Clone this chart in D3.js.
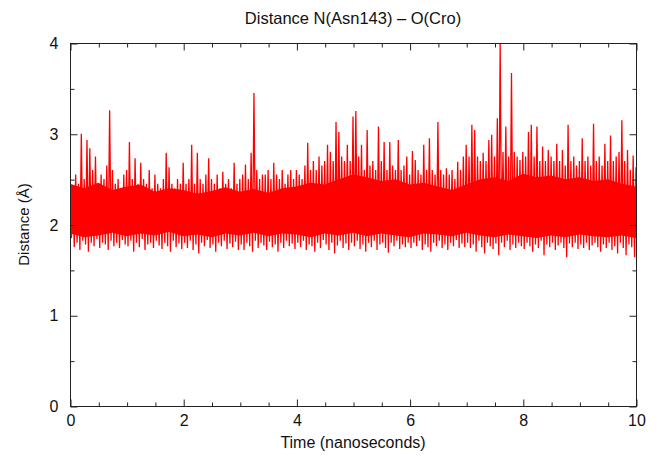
<!DOCTYPE html>
<html>
<head>
<meta charset="utf-8">
<script src="https://cdn.jsdelivr.net/npm/d3@7"></script>
<style>
  body { margin: 0; background: #fff; }
  text { font-family: "Liberation Sans", Arial, sans-serif; fill: #111; }
</style>
</head>
<body>
<div id="chart"></div>
<script>
const sampleStep = 0.05;
const lowOffset = 0.025;

const highs = [
  2.70, 2.40, 2.55, 2.45, 3.00, 2.50, 2.93, 2.84, 2.60, 2.75, 2.45, 2.55, 2.50, 2.65, 3.26, 2.60, 2.45, 2.50, 2.40, 2.55,
  2.60, 2.91, 2.50, 2.73, 2.45, 2.68, 2.50, 2.45, 2.60, 2.40, 2.55, 2.45, 2.40, 2.50, 2.79, 2.63, 2.45, 2.40, 2.50, 2.45,
  2.68, 2.45, 2.50, 2.88, 2.45, 2.79, 2.50, 2.45, 2.55, 2.73, 2.50, 2.45, 2.55, 2.40, 2.58, 2.45, 2.50, 2.40, 2.68, 2.45,
  2.50, 2.55, 2.66, 2.50, 2.79, 3.45, 2.60, 2.50, 2.55, 2.55, 2.60, 2.50, 2.68, 2.55, 2.50, 2.60, 2.45, 2.55, 2.60, 2.50,
  2.60, 2.55, 2.50, 2.65, 2.90, 2.60, 2.70, 2.60, 2.75, 2.65, 2.70, 2.88, 2.80, 2.70, 3.13, 3.02, 2.75, 2.70, 2.88, 2.70,
  3.19, 3.25, 2.75, 2.88, 2.60, 3.04, 2.65, 2.70, 2.60, 3.08, 2.70, 2.91, 2.60, 2.91, 2.65, 2.60, 2.93, 2.60, 2.65, 2.75,
  2.55, 2.81, 2.71, 2.60, 2.55, 2.88, 2.60, 2.95, 2.60, 2.55, 3.13, 2.60, 2.55, 2.62, 2.55, 2.60, 2.50, 2.69, 2.60, 2.75,
  2.88, 2.75, 3.10, 3.04, 2.75, 2.70, 2.79, 2.70, 2.93, 2.99, 2.75, 3.17, 4.00, 2.80, 3.08, 2.75, 3.67, 2.80, 2.75, 2.71,
  2.80, 2.75, 3.02, 3.10, 2.75, 3.08, 2.70, 2.86, 2.70, 2.82, 2.75, 2.70, 2.89, 2.70, 2.82, 2.65, 3.10, 2.70, 2.75, 2.65,
  2.70, 2.95, 2.70, 2.75, 2.65, 3.11, 2.70, 2.75, 2.65, 2.89, 2.70, 2.98, 2.70, 2.75, 2.80, 3.15, 2.70, 2.82, 2.60, 2.76,
  2.63
];

const lows = [
  1.85, 1.75, 1.80, 1.72, 1.82, 1.78, 1.70, 1.80, 1.76, 1.84, 1.74, 1.80, 1.78, 1.72, 1.82, 1.76, 1.80, 1.74, 1.83, 1.78,
  1.76, 1.82, 1.70, 1.80, 1.75, 1.84, 1.72, 1.78, 1.80, 1.74, 1.82, 1.77, 1.73, 1.80, 1.76, 1.70, 1.82, 1.75, 1.79, 1.73,
  1.80, 1.74, 1.82, 1.72, 1.78, 1.68, 1.80, 1.76, 1.83, 1.74, 1.78, 1.70, 1.80, 1.76, 1.82, 1.73, 1.79, 1.75, 1.81, 1.72,
  1.78, 1.72, 1.80, 1.76, 1.70, 1.82, 1.74, 1.80, 1.77, 1.72, 1.81, 1.75, 1.78, 1.70, 1.80, 1.74, 1.82, 1.76, 1.79, 1.73,
  1.80, 1.75, 1.82, 1.72, 1.78, 1.76, 1.70, 1.80, 1.74, 1.83, 1.78, 1.72, 1.80, 1.68, 1.77, 1.82, 1.74, 1.79, 1.72, 1.80,
  1.76, 1.82, 1.73, 1.78, 1.70, 1.80, 1.75, 1.82, 1.72, 1.78, 1.80, 1.74, 1.69, 1.80, 1.76, 1.82, 1.73, 1.78, 1.75, 1.80,
  1.74, 1.80, 1.76, 1.82, 1.72, 1.78, 1.75, 1.70, 1.80, 1.76, 1.82, 1.74, 1.78, 1.72, 1.80, 1.76, 1.83, 1.74, 1.79, 1.75,
  1.80, 1.74, 1.78, 1.70, 1.82, 1.75, 1.68, 1.80, 1.76, 1.73, 1.79, 1.66, 1.80, 1.75, 1.82, 1.72, 1.78, 1.74, 1.80, 1.76,
  1.73, 1.80, 1.76, 1.70, 1.78, 1.74, 1.82, 1.66, 1.78, 1.75, 1.80, 1.72, 1.77, 1.80, 1.74, 1.64, 1.79, 1.75, 1.80, 1.73,
  1.78, 1.74, 1.80, 1.72, 1.77, 1.80, 1.75, 1.70, 1.78, 1.74, 1.80, 1.72, 1.76, 1.68, 1.80, 1.74, 1.66, 1.78, 1.75, 1.64
];

// solid core of the trace (where samples overlap), every 0.25 ns
const coreTimes = [
  0, 0.25, 0.5, 0.75, 1, 1.25, 1.5, 1.75, 2, 2.25, 2.5, 2.75, 3, 3.25, 3.5, 3.75, 4, 4.25, 4.5, 4.75,
  5, 5.25, 5.5, 5.75, 6, 6.25, 6.5, 6.75, 7, 7.25, 7.5, 7.75, 8, 8.25, 8.5, 8.75, 9, 9.25, 9.5, 9.75, 10
];
const coreUpper = [
  2.45, 2.40, 2.46, 2.38, 2.42, 2.44, 2.36, 2.40, 2.38, 2.34, 2.37, 2.41, 2.36, 2.39, 2.35, 2.40, 2.42, 2.46, 2.44, 2.50,
  2.55, 2.52, 2.48, 2.50, 2.44, 2.46, 2.42, 2.38, 2.44, 2.50, 2.52, 2.48, 2.56, 2.52, 2.54, 2.50, 2.52, 2.48, 2.50, 2.45, 2.42
];
const coreLower = [
  1.90, 1.86, 1.88, 1.91, 1.87, 1.90, 1.88, 1.92, 1.87, 1.89, 1.86, 1.90, 1.88, 1.91, 1.87, 1.90, 1.89, 1.86, 1.90, 1.88,
  1.91, 1.87, 1.90, 1.88, 1.86, 1.90, 1.89, 1.87, 1.91, 1.88, 1.86, 1.89, 1.87, 1.85, 1.88, 1.86, 1.89, 1.87, 1.86, 1.88, 1.85
];

const xMajorTicks = [0, 2, 4, 6, 8, 10];
const xMinorTicks = [0.5, 1, 1.5, 2.5, 3, 3.5, 4.5, 5, 5.5, 6.5, 7, 7.5, 8.5, 9, 9.5];
const yMajorTicks = [0, 1, 2, 3, 4];
const yMinorTicks = [0.5, 1.5, 2.5, 3.5];

const width = 659;
const height = 460;
const margin = { top: 43, right: 23, bottom: 54, left: 70 };
const innerWidth = width - margin.left - margin.right;
const innerHeight = height - margin.top - margin.bottom;

const svg = d3.select('#chart')
    .append('svg')
    .attr('width', width)
    .attr('height', height);

const g = svg.append('g')
    .attr('transform', `translate(${margin.left}, ${margin.top})`);

const x = d3.scaleLinear().domain([0, 10]).range([0, innerWidth]);
const y = d3.scaleLinear().domain([0, 4]).range([innerHeight, 0]);

svg.append('defs').append('clipPath')
    .attr('id', 'plot-clip')
    .append('rect')
    .attr('width', innerWidth)
    .attr('height', innerHeight);

const plot = g.append('g').attr('clip-path', 'url(#plot-clip)');

// dense core
plot.append('path')
    .datum(coreTimes.map((t, i) => [t, coreLower[i], coreUpper[i]]))
    .attr('fill', '#ff0000')
    .attr('d', d3.area()
        .x(d => x(d[0]))
        .y0(d => y(d[1]))
        .y1(d => y(d[2])));

// zig-zag between highs and lows
const points = [];
highs.forEach((h, i) => {
    points.push([i * sampleStep, h]);
    if (i < lows.length) points.push([i * sampleStep + lowOffset, lows[i]]);
});

plot.append('path')
    .datum(points)
    .attr('fill', 'none')
    .attr('stroke', '#ff0000')
    .attr('stroke-width', 1.3)
    .attr('d', d3.line().x(d => x(d[0])).y(d => y(d[1])));

// frame
g.append('rect')
    .attr('x', 0.5)
    .attr('y', 0.5)
    .attr('width', innerWidth)
    .attr('height', innerHeight)
    .attr('fill', 'none')
    .attr('stroke', '#222')
    .attr('stroke-width', 1);

function styleAxis(sel) {
    sel.select('.domain').remove();
    sel.selectAll('line').attr('stroke', '#222');
    sel.selectAll('text')
        .style('font-family', '"Liberation Sans", Arial, sans-serif')
        .style('font-size', '16px')
        .attr('fill', '#111');
}

function ticksOnly(sel) {
    styleAxis(sel);
    sel.selectAll('text').remove();
}

// bottom axis, inward ticks
g.append('g')
    .attr('transform', `translate(0.5, ${innerHeight + 0.5})`)
    .call(d3.axisBottom(x).tickValues(xMajorTicks).tickSize(-7).tickPadding(8).tickFormat(d3.format('d')))
    .call(styleAxis);
g.append('g')
    .attr('transform', `translate(0.5, ${innerHeight + 0.5})`)
    .call(d3.axisBottom(x).tickValues(xMinorTicks).tickSize(-4))
    .call(ticksOnly);

// top axis
g.append('g')
    .attr('transform', 'translate(0.5, 0.5)')
    .call(d3.axisTop(x).tickValues(xMajorTicks).tickSize(-7))
    .call(ticksOnly);
g.append('g')
    .attr('transform', 'translate(0.5, 0.5)')
    .call(d3.axisTop(x).tickValues(xMinorTicks).tickSize(-4))
    .call(ticksOnly);

// left axis
g.append('g')
    .attr('transform', 'translate(0.5, 0.5)')
    .call(d3.axisLeft(y).tickValues(yMajorTicks).tickSize(-7).tickPadding(12).tickFormat(d3.format('d')))
    .call(styleAxis);
g.append('g')
    .attr('transform', 'translate(0.5, 0.5)')
    .call(d3.axisLeft(y).tickValues(yMinorTicks).tickSize(-4))
    .call(ticksOnly);

// right axis
g.append('g')
    .attr('transform', `translate(${innerWidth + 0.5}, 0.5)`)
    .call(d3.axisRight(y).tickValues(yMajorTicks).tickSize(-7))
    .call(ticksOnly);
g.append('g')
    .attr('transform', `translate(${innerWidth + 0.5}, 0.5)`)
    .call(d3.axisRight(y).tickValues(yMinorTicks).tickSize(-4))
    .call(ticksOnly);

// titles
svg.append('text')
    .attr('x', margin.left + innerWidth / 2)
    .attr('y', 24)
    .attr('text-anchor', 'middle')
    .style('font-size', '16.5px')
    .text('Distance N(Asn143) – O(Cro)');

svg.append('text')
    .attr('x', margin.left + innerWidth / 2)
    .attr('y', 448)
    .attr('text-anchor', 'middle')
    .style('font-size', '16px')
    .text('Time (nanoseconds)');

svg.append('text')
    .attr('transform', `translate(29, ${margin.top + innerHeight / 2}) rotate(-90)`)
    .attr('text-anchor', 'middle')
    .style('font-size', '15px')
    .text('Distance (Å)');
</script>
</body>
</html>
